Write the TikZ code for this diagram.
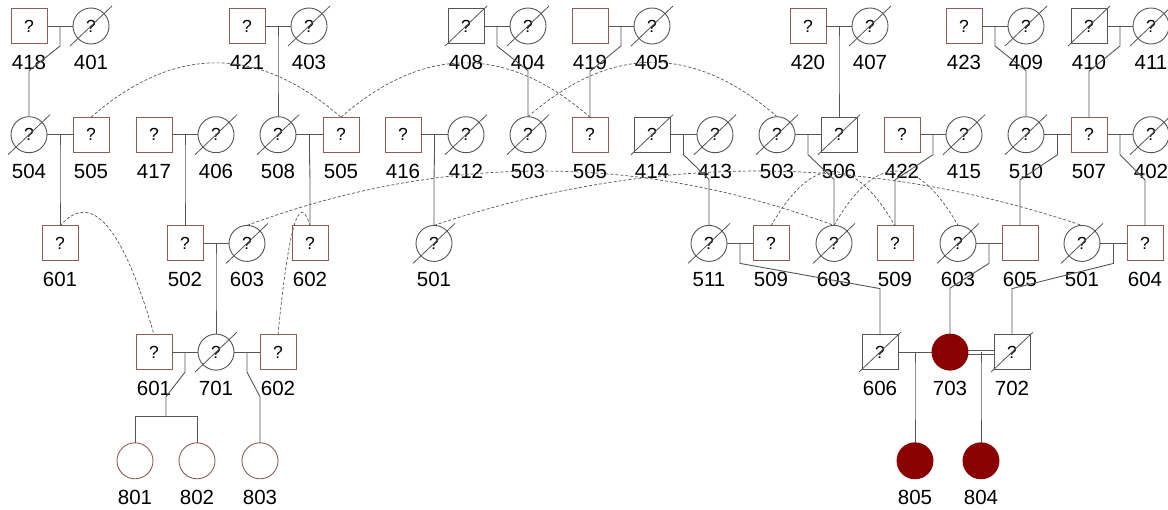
\documentclass[tikz,border=0pt]{standalone}
\usepackage{fontspec}
\setmainfont{Liberation Sans}
\usetikzlibrary{calc}
\definecolor{brn}{RGB}{145,92,92}
\definecolor{gry}{RGB}{85,85,85}
\definecolor{aff}{RGB}{139,0,0}
\tikzset{
  person/.style={inner sep=0pt, outer sep=0pt, line width=0.9pt, font=\fontsize{17.5}{17.5}\selectfont},
  msq/.style={person, rectangle, draw=brn, minimum width=36pt, minimum height=35pt},
  dsq/.style={person, rectangle, draw=gry, minimum width=36pt, minimum height=35pt},
  fci/.style={person, circle, draw=gry, minimum size=36pt},
  eci/.style={person, circle, draw=brn, minimum size=36pt},
  aci/.style={person, circle, draw=aff, fill=aff, minimum size=36pt},
  idlabel/.style={inner sep=0pt, font=\fontsize{20.5}{20.5}\selectfont},
  rel/.style={draw=gry, line width=0.9pt},
  dup/.style={draw=gry, line width=0.7pt, dash pattern=on 3pt off 2pt},
  slashline/.style={draw=gry, line width=0.8pt},
}
\newcommand\pers[6]{%
  \node[#2] (#1) at (#3,#4) {#5};
  \node[idlabel] (#1-l) at (#3,#4+36.5) {#6};}
\newcommand\dec[1]{\draw[slashline] ($(#1)+(-21,20)$) -- ($(#1)+(21,-20)$);}
\newcommand\marr[2]{\draw[rel] (#1.east) -- (#2.west);}
\newcommand\desc[3]{%
  \draw[rel] ($(#1.east)!.5!(#2.west)$) -- ++(0,20) -- ($(#3.north)+(0,-46)$) -- (#3.north);}
\newcommand\duparc[2]{%
  \coordinate (ctl) at ($(#1.north)!.5!(#2.north)+(0,-108.7)$);
  \draw[dup] (#1.north) .. controls ($(#1.north)!.6667!(ctl)$) and ($(#2.north)!.6667!(ctl)$) .. (#2.north);}
\begin{document}
\begin{tikzpicture}[x=1pt,y=-1pt]
\fill[white] (0,0) rectangle (1168,509);
\useasboundingbox (0,0) rectangle (1168,509);
% ---- generation 1
\pers{p418}{msq}{29}{26}{?}{418}
\pers{p401}{fci}{91}{26}{?}{401}
\pers{p421}{msq}{247}{26}{?}{421}
\pers{p403}{fci}{309}{26}{?}{403}
\pers{p408}{dsq}{466}{26}{?}{408}
\pers{p404}{fci}{528}{26}{?}{404}
\pers{p419}{msq}{590}{26}{}{419}
\pers{p405}{fci}{652}{26}{?}{405}
\pers{p420}{msq}{808}{26}{?}{420}
\pers{p407}{fci}{870}{26}{?}{407}
\pers{p423}{msq}{964}{26}{?}{423}
\pers{p409}{fci}{1026}{26}{?}{409}
\pers{p410}{dsq}{1089}{26}{?}{410}
\pers{p411}{fci}{1151}{26}{?}{411}
% ---- generation 2
\pers{p504}{fci}{29}{134.7}{?}{504}
\pers{p505a}{msq}{91}{134.7}{?}{505}
\pers{p417}{msq}{154}{134.7}{?}{417}
\pers{p406}{fci}{216}{134.7}{?}{406}
\pers{p508}{fci}{278}{134.7}{?}{508}
\pers{p505b}{msq}{341}{134.7}{?}{505}
\pers{p416}{msq}{403}{134.7}{?}{416}
\pers{p412}{fci}{466}{134.7}{?}{412}
\pers{p503a}{fci}{528}{134.7}{?}{503}
\pers{p505c}{msq}{590}{134.7}{?}{505}
\pers{p414}{dsq}{652}{134.7}{?}{414}
\pers{p413}{fci}{715}{134.7}{?}{413}
\pers{p503b}{fci}{777}{134.7}{?}{503}
\pers{p506}{dsq}{839}{134.7}{?}{506}
\pers{p422}{msq}{902}{134.7}{?}{422}
\pers{p415}{fci}{964}{134.7}{?}{415}
\pers{p510}{fci}{1026}{134.7}{?}{510}
\pers{p507}{msq}{1089}{134.7}{?}{507}
\pers{p402}{fci}{1151}{134.7}{?}{402}
% ---- generation 3
\pers{p601a}{msq}{60}{243.4}{?}{601}
\pers{p502}{msq}{185}{243.4}{?}{502}
\pers{p603a}{fci}{247}{243.4}{?}{603}
\pers{p602a}{msq}{310}{243.4}{?}{602}
\pers{p501a}{fci}{434}{243.4}{?}{501}
\pers{p511}{fci}{709}{243.4}{?}{511}
\pers{p509a}{msq}{771}{243.4}{?}{509}
\pers{p603b}{fci}{834}{243.4}{?}{603}
\pers{p509b}{msq}{895}{243.4}{?}{509}
\pers{p603c}{fci}{958}{243.4}{?}{603}
\pers{p605}{msq}{1020}{243.4}{}{605}
\pers{p501b}{fci}{1082}{243.4}{?}{501}
\pers{p604}{msq}{1145}{243.4}{?}{604}
% ---- generation 4
\pers{p601b}{msq}{154}{352.1}{?}{601}
\pers{p701}{fci}{216}{352.1}{?}{701}
\pers{p602b}{msq}{278}{352.1}{?}{602}
\pers{p606}{dsq}{880}{352.1}{?}{606}
\pers{p703}{aci}{950}{352.1}{}{703}
\pers{p702}{dsq}{1012}{352.1}{?}{702}
% ---- generation 5
\pers{p801}{eci}{135}{460.8}{}{801}
\pers{p802}{eci}{197}{460.8}{}{802}
\pers{p803}{eci}{260}{460.8}{}{803}
\pers{p805}{aci}{915}{460.8}{}{805}
\pers{p804}{aci}{981}{460.8}{}{804}
% ---- deceased slashes
\foreach \n in {p401,p403,p408,p404,p405,p407,p409,p410,p411,
  p504,p406,p508,p412,p503a,p414,p413,p503b,p506,p415,p510,p402,
  p603a,p501a,p511,p603b,p603c,p501b,p701,p606,p702}{\dec{\n}}
% ---- marriages
\marr{p418}{p401}\marr{p421}{p403}\marr{p408}{p404}\marr{p419}{p405}
\marr{p420}{p407}\marr{p423}{p409}\marr{p410}{p411}
\marr{p504}{p505a}\marr{p417}{p406}\marr{p508}{p505b}\marr{p416}{p412}
\marr{p414}{p413}\marr{p503b}{p506}\marr{p422}{p415}\marr{p510}{p507}\marr{p507}{p402}
\marr{p502}{p603a}\marr{p511}{p509a}\marr{p603c}{p605}\marr{p501b}{p604}
\marr{p601b}{p701}\marr{p701}{p602b}\marr{p606}{p703}
\draw[rel] ($(p703.east)+(0,-2)$) -- ($(p702.west)+(0,-2)$);
\draw[rel] ($(p703.east)+(0,2)$) -- ($(p702.west)+(0,2)$);
% ---- descent lines
\desc{p418}{p401}{p504}\desc{p421}{p403}{p508}\desc{p408}{p404}{p503a}
\desc{p419}{p405}{p505c}\desc{p420}{p407}{p506}\desc{p423}{p409}{p510}
\desc{p410}{p411}{p507}
\desc{p504}{p505a}{p601a}\desc{p417}{p406}{p502}\desc{p508}{p505b}{p602a}
\desc{p416}{p412}{p501a}\desc{p414}{p413}{p511}\desc{p503b}{p506}{p603b}
\desc{p422}{p415}{p509b}\desc{p510}{p507}{p605}\desc{p507}{p402}{p604}
\desc{p502}{p603a}{p701}\desc{p511}{p509a}{p606}\desc{p603c}{p605}{p703}
\desc{p501b}{p604}{p702}
\desc{p701}{p602b}{p803}\desc{p606}{p703}{p805}\desc{p703}{p702}{p804}
\coordinate (sib) at ($(p801.north)!.5!(p802.north)$);
\draw[rel] ($(p601b.east)!.5!(p701.west)$) -- ++(0,20) -- ($(sib)+(0,-46)$) -- ($(sib)+(0,-26)$);
\draw[rel] (p801.north) -- ++(0,-26) -| (p802.north);
% ---- duplicate individuals
\duparc{p505a}{p505b}\duparc{p505b}{p505c}\duparc{p503a}{p503b}
\duparc{p603a}{p603b}\duparc{p603b}{p603c}\duparc{p509a}{p509b}
\duparc{p501a}{p501b}\duparc{p601a}{p601b}\duparc{p602b}{p602a}
\end{tikzpicture}
\end{document}
